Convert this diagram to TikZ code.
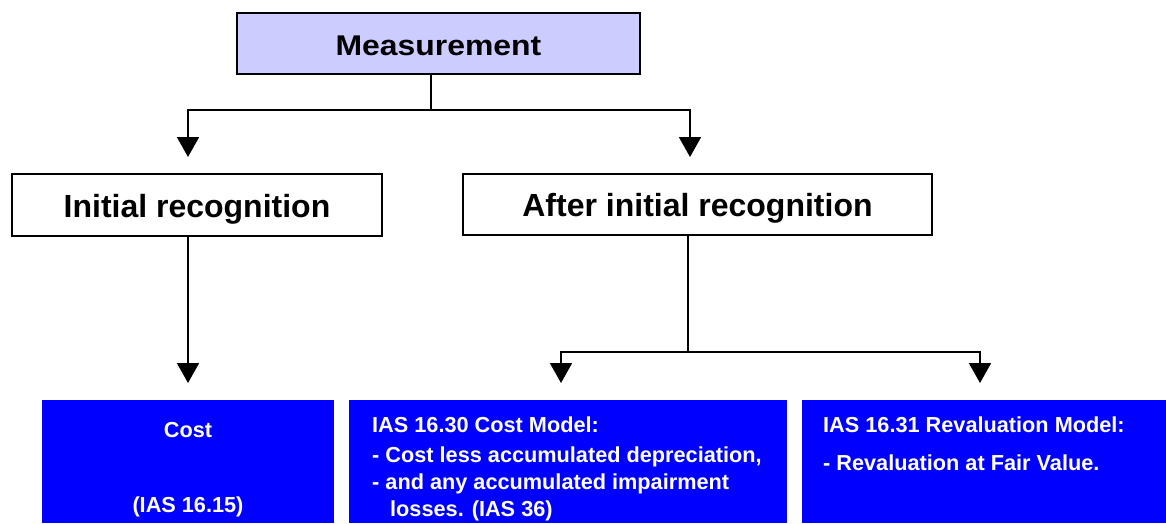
\documentclass[tikz,border=0pt]{standalone}
\usepackage{fontspec}
\setmainfont{Liberation Sans}
\newfontfamily\widefont{Liberation Sans}[FakeStretch=1.12]
\usetikzlibrary{arrows.meta}
\definecolor{measfill}{HTML}{CCCCFF}
\definecolor{modelblue}{HTML}{0000FF}
\tikzset{
  headbox/.style={draw=black, line width=1.8pt, fill=white, inner sep=0pt,
    text height=24pt, text depth=0pt,
    font=\bfseries\fontsize{32}{36}\selectfont},
  bluebox/.style={fill=modelblue, draw=none, inner sep=0pt, anchor=north west},
  bluetext/.style={text=white, inner sep=0pt, font=\bfseries\fontsize{21.7}{24}\selectfont},
  link/.style={line width=1.8pt, draw=black},
  arr/.style={link, -{Triangle[width=22pt,length=20pt]}},
}
\begin{document}
\begin{tikzpicture}[x=1pt, y=-1pt]
\useasboundingbox (0,0) rectangle (1166,523);

% top level
\node[headbox, fill=measfill, minimum width=403pt, minimum height=61pt,
      text height=23.4pt,
      font=\widefont\bfseries\fontsize{28.5}{32}\selectfont]
  (meas) at (438.5,43.3) {Measurement};

% second level
\node[headbox, minimum width=370pt, minimum height=62pt]
  (init) at (197,205) {Initial recognition};
\node[headbox, minimum width=469pt, minimum height=61pt]
  (after) at (697.5,204.5) {After initial recognition};

% models
\node[bluebox, minimum width=292pt, minimum height=123pt] (cost) at (42,400) {};
\node[bluebox, minimum width=438pt, minimum height=123pt] (costmodel) at (349,400) {};
\node[bluebox, minimum width=364pt, minimum height=123pt] (reval) at (802,400) {};

\node[bluetext, anchor=base] (costA) at (188,437) {Cost};
\node[bluetext, anchor=base] (costB) at (188,512) {(IAS 16.15)};

\node[bluetext, anchor=base west] (cmA) at (372,432) {IAS 16.30 Cost Model:};
\node[bluetext, anchor=base west] (cmB) at (372,462) {- Cost less accumulated depreciation,};
\node[bluetext, anchor=base west] (cmC) at (372,489) {- and any accumulated impairment};
\node[bluetext, anchor=base west] (cmD) at (390,516) {losses. (IAS 36)};

\node[bluetext, anchor=base west] (rvA) at (823,432) {IAS 16.31 Revaluation Model:};
\node[bluetext, anchor=base west] (rvB) at (823,470) {- Revaluation at Fair Value.};

% connector junctions and arrow ends
\coordinate (j1) at (431,110);
\coordinate (t1) at (188,157);
\coordinate (t2) at (690,157);
\coordinate (t3) at (188,383);
\coordinate (j2) at (688,352);
\coordinate (t4) at (561,383);
\coordinate (t5) at (980,383);

\draw[link] (meas.south -| j1) -- (j1);
\draw[arr] (j1) -| (t1);
\draw[arr] (j1) -| (t2);
\draw[arr] (init.south -| t3) -- (t3);
\draw[link] (after.south -| j2) -- (j2);
\draw[arr] (j2) -| (t4);
\draw[arr] (j2) -| (t5);
\end{tikzpicture}
\end{document}
